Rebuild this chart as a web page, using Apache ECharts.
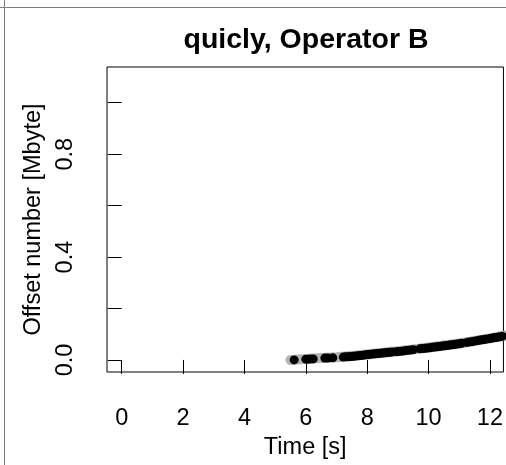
<!DOCTYPE html>
<html>
<head>
<meta charset="utf-8">
<script src="https://cdn.jsdelivr.net/npm/echarts@6/dist/echarts.min.js"></script>
<style>
html,body{margin:0;padding:0;background:#fff;}
#chart{width:506px;height:465px;}
</style>
</head>
<body>
<div id="chart"></div>
<script>
// ---- data ----
const titleText = "quicly, Operator B";
const xName = "Time [s]";
const yName = "Offset number [Mbyte]";
const xTicks = [0, 2, 4, 6, 8, 10, 12];
const yTicks = [0, 0.2, 0.4, 0.6, 0.8, 1.0];
const yTickLabels = [0, 0.4, 0.8];

// grey trace (underneath)
const greyTime = [5.50, 6.00, 6.50, 7.00, 7.50, 8.00, 8.50, 9.00, 9.50, 10.00, 10.50, 11.00, 11.50, 12.00, 12.50];
const greyOffset = [0.000, 0.004, 0.007, 0.010, 0.015, 0.021, 0.028, 0.034, 0.041, 0.048, 0.056, 0.064, 0.074, 0.084, 0.095];

// black points
const blackTime = [5.62, 6.00, 6.08, 6.16, 6.24, 6.62, 6.72, 6.88, 7.22, 7.30, 7.38, 7.46, 7.54, 7.62, 7.70, 7.78, 7.86, 7.94,
  8.02, 8.10, 8.18, 8.26, 8.34, 8.42, 8.50, 8.58, 8.66, 8.74, 8.82, 8.95, 9.03, 9.11, 9.19, 9.27, 9.35, 9.43, 9.51,
  9.72, 9.80, 9.88, 9.96, 10.04, 10.12, 10.20, 10.28, 10.36, 10.44, 10.52, 10.60, 10.68, 10.76, 10.84, 10.92, 11.00, 11.08,
  11.25, 11.33, 11.41, 11.49, 11.57, 11.65, 11.73, 11.81, 11.89, 12.00, 12.08, 12.16, 12.24, 12.32, 12.40];
const blackOffset = [0.000, 0.003, 0.003, 0.004, 0.004, 0.007, 0.007, 0.008, 0.011, 0.012, 0.012, 0.013, 0.014, 0.015, 0.016, 0.017, 0.018, 0.020,
  0.021, 0.022, 0.023, 0.024, 0.025, 0.026, 0.027, 0.028, 0.029, 0.030, 0.031, 0.032, 0.033, 0.034, 0.035, 0.037, 0.038, 0.039, 0.040,
  0.043, 0.044, 0.045, 0.046, 0.047, 0.049, 0.050, 0.051, 0.052, 0.054, 0.055, 0.056, 0.058, 0.059, 0.060, 0.062, 0.063, 0.065,
  0.068, 0.070, 0.071, 0.073, 0.075, 0.076, 0.078, 0.079, 0.081, 0.083, 0.085, 0.087, 0.088, 0.090, 0.092];

const FONT = "'Liberation Sans', Arial, Helvetica, sans-serif";
const chart = echarts.init(document.getElementById('chart'), null, {renderer: 'canvas'});
const greyData = greyTime.map((t, i) => [t, greyOffset[i]]);
const blackData = blackTime.map((t, i) => [t, blackOffset[i]]);

chart.setOption({
  animation: false,
  backgroundColor: '#ffffff',
  title: {
    text: titleText,
    left: 306, top: 26, textAlign: 'center', padding: 0,
    textStyle: {fontFamily: FONT, fontWeight: 'bold', fontSize: 28.5, color: '#000'}
  },
  grid: {
    left: 107, top: 67, width: 398, height: 312.5,
    show: true, borderColor: '#000', borderWidth: 1, backgroundColor: 'transparent'
  },
  xAxis: {
    type: 'value', min: -0.48, max: 12.44,
    name: xName, nameLocation: 'middle', nameGap: 64,
    nameTextStyle: {fontFamily: FONT, fontSize: 23.5, color: '#000'},
    axisLine: {show: false},
    splitLine: {show: false},
    axisTick: {show: true, length: 14, inside: false, customValues: xTicks, lineStyle: {color: '#000', width: 1}},
    axisLabel: {show: true, margin: 35, customValues: xTicks, fontFamily: FONT, fontSize: 23.5, color: '#000'}
  },
  yAxis: {
    type: 'value', min: -0.047, max: 1.139,
    name: yName, nameLocation: 'middle', nameGap: 61, nameRotate: 90,
    nameTextStyle: {fontFamily: FONT, fontSize: 23.5, color: '#000'},
    axisLine: {show: false},
    splitLine: {show: false},
    axisTick: {show: true, length: 14, inside: false, customValues: yTicks, lineStyle: {color: '#000', width: 1}},
    axisLabel: {show: true, margin: 29, rotate: 90, customValues: yTickLabels, fontFamily: FONT, fontSize: 23.5, color: '#000',
      formatter: v => v.toFixed(1)}
  },
  series: [
    {
      type: 'line', data: greyData, symbol: 'none', clip: true,
      lineStyle: {color: '#b4b4b4', width: 10, cap: 'round', join: 'round', opacity: 1}, z: 1
    },
    {
      type: 'scatter', data: blackData, symbol: 'circle', symbolSize: 9, clip: true,
      itemStyle: {color: '#000', borderWidth: 0, opacity: 1}, z: 2
    }
  ],
  graphic: [
    {type: 'line', shape: {x1: 0, y1: 7.5, x2: 506, y2: 7.5}, style: {stroke: '#7f7f7f', lineWidth: 1}, silent: true},
    {type: 'line', shape: {x1: 4.5, y1: 0, x2: 4.5, y2: 465}, style: {stroke: '#7f7f7f', lineWidth: 1}, silent: true}
  ]
});
</script>
</body>
</html>
